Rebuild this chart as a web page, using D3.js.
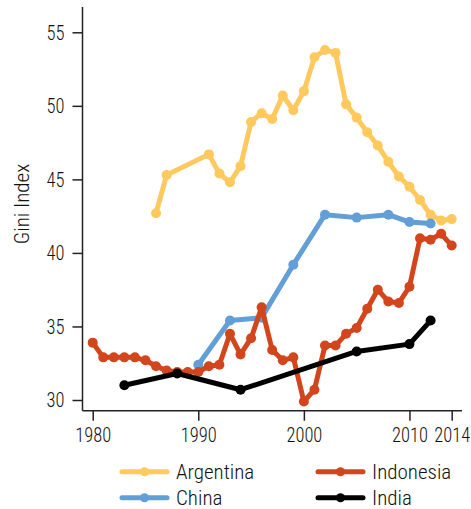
<!DOCTYPE html>
<html><head><meta charset="utf-8">
<script src="https://cdn.jsdelivr.net/npm/d3@7"></script>
<style>
body{margin:0;background:#fff;}
text{font-family:"Roboto Condensed","Liberation Sans Narrow","DejaVu Sans Condensed",sans-serif;font-weight:300;fill:#111;}
</style></head>
<body><svg id="c" width="471" height="509"></svg>
<script>
const argYears = [1986,1987,1991,1992,1993,1994,1995,1996,1997,1998,1999,2000,2001,2002,2003,2004,2005,2006,2007,2008,2009,2010,2011,2012,2013,2014];
const argVals  = [42.7,45.3,46.7,45.4,44.8,45.9,48.9,49.5,49.1,50.7,49.7,51.0,53.3,53.8,53.6,50.1,49.2,48.2,47.3,46.2,45.2,44.5,43.6,42.6,42.2,42.3];
const chnYears = [1990,1993,1996,1999,2002,2005,2008,2010,2012];
const chnVals  = [32.4,35.4,35.6,39.2,42.6,42.4,42.6,42.1,42.0];
const idnYears = [1980,1981,1982,1983,1984,1985,1986,1987,1988,1989,1990,1991,1992,1993,1994,1995,1996,1997,1998,1999,2000,2001,2002,2003,2004,2005,2006,2007,2008,2009,2010,2011,2012,2013,2014];
const idnVals  = [33.9,32.9,32.9,32.9,32.9,32.7,32.3,32.0,31.9,31.9,31.9,32.3,32.4,34.5,33.1,34.2,36.3,33.4,32.7,32.9,29.9,30.7,33.7,33.7,34.5,34.9,36.2,37.5,36.7,36.6,37.7,41.0,40.9,41.3,40.5];
const indYears = [1983,1988,1994,2005,2010,2012];
const indVals  = [31.0,31.8,30.7,33.3,33.8,35.4];
const xTicks = [1980,1990,2000,2010,2014];
const yTicks = [30,35,40,45,50,55];

const series = [
  {name:"Argentina", years:argYears, vals:argVals, color:"#ffc95e"},
  {name:"China", years:chnYears, vals:chnVals, color:"#629fd7"},
  {name:"Indonesia", years:idnYears, vals:idnVals, color:"#d2451d"},
  {name:"India", years:indYears, vals:indVals, color:"#000000"}
];

const svg = d3.select("#c");
const x = d3.scaleLinear().domain([1980,2014]).range([92.7,451.7]);
const y = d3.scaleLinear().domain([30,55]).range([400,32.3]);
const FS = 21;

const axLeft = 82.5, axBottom = 410.7, axTop = 7, axRight = 462;
const yAxis = d3.axisLeft(y).tickValues(yTicks).tickSize(10).tickPadding(4);
const gy = svg.append("g").attr("transform",`translate(${axLeft},0)`).call(yAxis);
gy.select(".domain").remove();
gy.selectAll(".tick line").attr("stroke","#222").attr("stroke-width",1.5);
gy.selectAll("text").attr("font-size",FS).style("fill","#111")
  .attr("x",0).attr("transform","translate(-18,0) scale(0.88,1)");
svg.append("line").attr("x1",axLeft).attr("x2",axLeft).attr("y1",axTop).attr("y2",axBottom).attr("stroke","#222").attr("stroke-width",1.5);

const xAxis = d3.axisBottom(x).tickValues(xTicks).tickFormat(d3.format("d")).tickSize(10).tickPadding(6);
const gx = svg.append("g").attr("transform",`translate(0,${axBottom})`).call(xAxis);
gx.select(".domain").remove();
gx.selectAll(".tick line").attr("stroke","#222").attr("stroke-width",1.5);
gx.selectAll("text").attr("font-size",FS).style("fill","#111").attr("transform","scale(0.88,1)");
svg.append("line").attr("x1",axLeft).attr("x2",axRight).attr("y1",axBottom).attr("y2",axBottom).attr("stroke","#222").attr("stroke-width",1.5);

svg.append("text").attr("transform","translate(29,204) rotate(-90)").attr("text-anchor","middle").attr("font-size",FS).text("Gini Index");

const line = d3.line().x(d=>x(d[0])).y(d=>y(d[1]));
series.forEach(s=>{
  const pts = s.years.map((yr,i)=>[yr,s.vals[i]]);
  const g = svg.append("g");
  g.append("path").attr("d",line(pts)).attr("fill","none").attr("stroke",s.color).attr("stroke-width",5).attr("stroke-linejoin","round");
  g.selectAll("circle").data(pts).join("circle").attr("cx",d=>x(d[0])).attr("cy",d=>y(d[1])).attr("r",5).attr("fill",s.color);
});

const leg = [
  {s:series[0], lx:122, ly:471.7},
  {s:series[2], lx:318, ly:471.7},
  {s:series[1], lx:122, ly:497.7},
  {s:series[3], lx:318, ly:497.7}
];
leg.forEach(l=>{
  const g = svg.append("g");
  g.append("line").attr("x1",l.lx).attr("x2",l.lx+45).attr("y1",l.ly).attr("y2",l.ly).attr("stroke",l.s.color).attr("stroke-width",5).attr("stroke-linecap","round");
  g.append("circle").attr("cx",l.lx+22.5).attr("cy",l.ly).attr("r",4.5).attr("fill",l.s.color);
  g.append("text").attr("x",l.lx+54).attr("y",l.ly+7.5).attr("font-size",FS).text(l.s.name);
});
</script></body></html>
